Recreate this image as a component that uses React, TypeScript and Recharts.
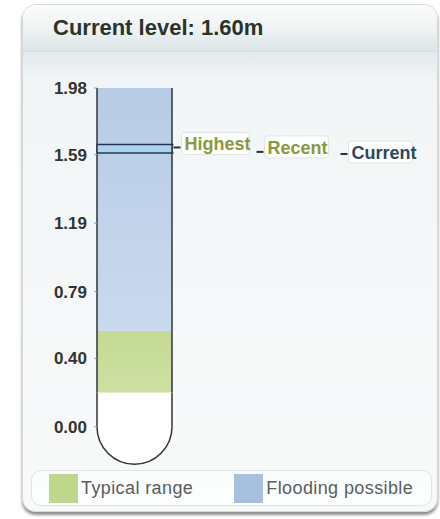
import React from 'react';
import {
  Bar,
  ComposedChart,
  Legend,
  ReferenceDot,
  XAxis,
  YAxis,
} from 'recharts';

// gauge data
const levelCategory = 'level';
const bandNames = ['Below typical', 'Typical range', 'Flooding possible'];
const bandTops = [0.2, 0.56, 1.98];
const markerNames = ['Highest', 'Recent', 'Current'];
const markerValues = [1.65, 1.63, 1.6];
const yTicks = [0, 0.4, 0.79, 1.19, 1.59, 1.98];
const legendLabels = ['Typical range', 'Flooding possible'];
const currentLevel = 1.6;

const font = '"Liberation Sans", Arial, sans-serif';

const bandFills = ['#ffffff', 'url(#typicalFill)', 'url(#floodFill)'];
const legendColors = ['#bfd78b', '#a7c0de'];

const markerStyles = [
  { dx: 47, w: 68, color: '#8a993a', line: true, dashDy: 3 },
  { dx: 130, w: 64, color: '#8a993a', line: false, dashDy: 4 },
  { dx: 214, w: 64, color: '#2d4563', line: true, dashDy: 1 },
];

// stack segments built from the band tops, plus the current..highest range
const chartRow: Record<string, any> = { cat: levelCategory };
bandTops.forEach((top, i) => {
  chartRow[`band${i}`] = i === 0 ? top : +(top - bandTops[i - 1]).toFixed(3);
});
chartRow.recentRange = [markerValues[2], markerValues[0]];
const chartData = [chartRow];

function TubeSegment(props: any) {
  const { x, y, width, height, fill, isBase } = props;
  const stroke = '#2f3438';
  return (
    <g>
      <rect x={x} y={y} width={width} height={height} fill={fill} />
      {isBase && (
        <path
          d={`M${x},${y + height} A${width / 2},${width / 2} 0 0 0 ${x + width},${y + height}`}
          fill="#ffffff"
          stroke={stroke}
          strokeWidth={1.5}
        />
      )}
      <line x1={x} x2={x} y1={y} y2={y + height} stroke={stroke} strokeWidth={1.5} />
      <line x1={x + width} x2={x + width} y1={y} y2={y + height} stroke={stroke} strokeWidth={1.5} />
    </g>
  );
}

function markerShape(i: number) {
  return (props: any) => {
    const { cx, cy } = props;
    const s = markerStyles[i];
    const left = cx + s.dx;
    return (
      <g>
        {s.line && (
          <line x1={cx - 37.5} x2={cx + 39} y1={cy} y2={cy} stroke="#26384f" strokeWidth={1.5} />
        )}
        <line x1={left - 8} x2={left - 1} y1={cy + s.dashDy} y2={cy + s.dashDy} stroke="#2a2f35" strokeWidth={2} />
        <rect x={left} y={cy - 12} width={s.w} height={22} rx={3} fill="rgba(255,255,255,0.9)" stroke="#dfe4e4" />
        <text
          x={left + 3}
          y={cy}
          dominantBaseline="central"
          fill={s.color}
          fontFamily={font}
          fontWeight="bold"
          fontSize={18}
        >
          {markerNames[i]}
        </text>
      </g>
    );
  };
}

function renderLegend() {
  return (
    <div
      style={{
        display: 'flex',
        alignItems: 'center',
        height: 34,
        border: '1px solid #dfe4e6',
        borderRadius: 10,
        background: 'rgba(255,255,255,0.5)',
        fontFamily: font,
        fontSize: 18,
        color: '#595d60',
        letterSpacing: 0.4,
      }}
    >
      {legendLabels.map((label, i) => (
        <div key={label} style={{ display: 'flex', alignItems: 'center', marginLeft: i === 0 ? 17 : 41 }}>
          <span style={{ width: 29, height: 29, background: legendColors[i], display: 'inline-block' }} />
          <span style={{ marginLeft: 3 }}>{label}</span>
        </div>
      ))}
    </div>
  );
}

export default function App() {
  return (
    <div style={{ position: 'absolute', left: 0, top: 0, width: 440, height: 519, background: '#ffffff', overflow: 'hidden' }}>
      <svg width={0} height={0} style={{ position: 'absolute' }}>
        <defs>
          <linearGradient id="floodFill" x1="0" y1="0" x2="0" y2="1">
            <stop offset="0%" stopColor="#b7cbe6" />
            <stop offset="100%" stopColor="#cadaee" />
          </linearGradient>
          <linearGradient id="typicalFill" x1="0" y1="0" x2="0" y2="1">
            <stop offset="0%" stopColor="#c4da93" />
            <stop offset="100%" stopColor="#cde0a3" />
          </linearGradient>
        </defs>
      </svg>

      <div
        style={{
          position: 'absolute',
          left: 22,
          top: 4,
          width: 414,
          height: 506,
          borderRadius: 14,
          border: '1px solid #d3d9dc',
          boxShadow: '0 3px 3px rgba(0,0,0,0.45)',
          background: 'linear-gradient(to bottom, #eef3f4 0px, #f3f6f7 120px, #f8fafa 100%)',
          overflow: 'hidden',
        }}
      >
        <div
          style={{
            height: 46,
            background: 'linear-gradient(to bottom, #fbfcfc 0%, #eef2f3 55%, #dbe4e7 100%)',
            borderBottom: '1px solid #d4dde0',
            fontFamily: font,
            fontWeight: 'bold',
            fontSize: 22,
            color: '#273427',
            lineHeight: '46px',
            paddingLeft: 30,
          }}
        >
          Current level: {currentLevel.toFixed(2)}m
        </div>
        <div style={{ height: 30, background: 'linear-gradient(to bottom, #e2ebee, rgba(242,246,247,0))' }} />
      </div>

      <div style={{ position: 'absolute', left: 0, top: 0 }}>
        <ComposedChart
          width={440}
          height={519}
          data={chartData}
          margin={{ top: 88, right: 268, bottom: 58, left: 37 }}
          barCategoryGap={0}
        >
          <XAxis dataKey="cat" type="category" hide />
          <XAxis xAxisId="overlay" dataKey="cat" type="category" hide />
          <YAxis
            type="number"
            domain={[-0.2, 1.98]}
            ticks={yTicks}
            width={60}
            axisLine={false}
            tickLine={{ stroke: '#9a9a9a' }}
            tickSize={3}
            tickMargin={7}
            tickFormatter={(v: number) => v.toFixed(2)}
            tick={{ fill: '#333333', fontSize: 17, fontWeight: 'bold', fontFamily: font }}
          />
          {bandNames.map((name, i) => (
            <Bar
              key={name}
              dataKey={`band${i}`}
              name={name}
              stackId="tube"
              fill={bandFills[i]}
              legendType={i === 0 ? 'none' : 'square'}
              isAnimationActive={false}
              shape={(p: any) => <TubeSegment {...p} fill={bandFills[i]} isBase={i === 0} />}
            />
          ))}
          <Bar
            xAxisId="overlay"
            dataKey="recentRange"
            name="Recent range"
            legendType="none"
            isAnimationActive={false}
            shape={(p: any) => <TubeSegment {...p} fill="#acd3f1" isBase={false} />}
          />
          {markerNames.map((name, i) => (
            <ReferenceDot
              key={name}
              x={levelCategory}
              y={markerValues[i]}
              r={0}
              shape={markerShape(i)}
            />
          ))}
          <Legend
            layout="horizontal"
            verticalAlign="middle"
            content={renderLegend}
            wrapperStyle={{ position: 'absolute', left: 31, top: 470, width: 401, height: 36 }}
          />
        </ComposedChart>
      </div>
    </div>
  );
}
